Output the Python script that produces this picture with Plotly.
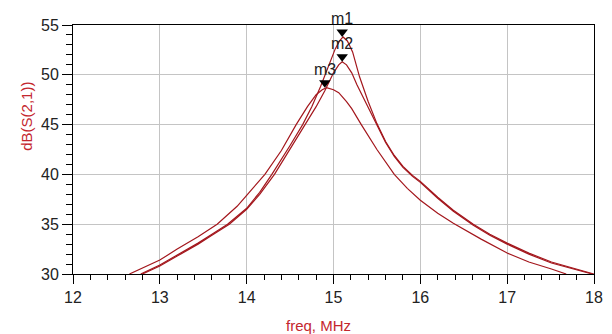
import plotly.graph_objects as go

# Curve m1 (highest peak)
freq_a = [12.78, 13.0, 13.2, 13.44, 13.6, 13.78, 14.0, 14.15, 14.29, 14.4, 14.5, 14.645,
          14.75, 14.85, 14.95, 15.02, 15.07, 15.11, 15.16, 15.22, 15.3, 15.4, 15.5, 15.6,
          15.7, 15.8, 15.91, 16.0, 16.2, 16.38, 16.61, 16.8, 17.0, 17.25, 17.51, 17.75, 18.0]
db_a = [30.0, 30.9, 31.9, 33.1, 34.0, 35.0, 36.6, 38.2, 40.0, 41.5, 42.9, 45.0,
        46.8, 48.8, 51.0, 52.6, 53.4, 53.8, 53.4, 52.3, 49.8, 47.3, 45.1, 43.3,
        41.9, 40.8, 39.9, 39.3, 37.7, 36.4, 35.0, 34.0, 33.1, 32.1, 31.2, 30.6, 30.0]

# Curve m2
freq_b = [12.80, 13.0, 13.2, 13.44, 13.6, 13.80, 14.0, 14.15, 14.32, 14.5, 14.675, 14.8,
          14.9, 15.0, 15.06, 15.10, 15.15, 15.21, 15.27, 15.35, 15.42, 15.5, 15.6, 15.7,
          15.8, 15.91, 16.0, 16.2, 16.38, 16.61, 16.8, 17.0, 17.25, 17.51, 17.75, 17.98]
db_b = [30.0, 30.8, 31.8, 33.0, 33.9, 35.0, 36.5, 38.0, 40.0, 42.6, 45.0, 46.8,
        48.4, 50.2, 51.0, 51.3, 51.0, 50.2, 49.0, 47.6, 46.3, 44.9, 43.2, 41.8,
        40.7, 39.8, 39.2, 37.6, 36.3, 34.9, 33.9, 33.0, 32.0, 31.1, 30.5, 30.0]

# Curve m3 (shifted, lower peak)
freq_c = [12.65, 12.8, 13.0, 13.2, 13.44, 13.66, 13.89, 14.0, 14.21, 14.4, 14.57, 14.7,
          14.8, 14.87, 14.92, 15.0, 15.06, 15.15, 15.21, 15.32, 15.5, 15.7, 15.85, 16.0,
          16.2, 16.38, 16.7, 17.0, 17.25, 17.51, 17.68]
db_c = [30.0, 30.6, 31.4, 32.5, 33.75, 35.0, 36.8, 37.9, 40.0, 42.4, 45.0, 46.8,
        48.0, 48.5, 48.7, 48.5, 48.2, 47.3, 46.6, 45.0, 42.5, 40.0, 38.6, 37.4,
        36.1, 35.1, 33.5, 32.1, 31.2, 30.5, 30.0]

# Markers
marker_names = ["m1", "m2", "m3"]
marker_freq = [15.10, 15.10, 14.90]
marker_db = [53.8, 51.3, 48.7]

x_range = [12, 18]
y_range = [30, 55]

line_color = "#a3161c"
title_color = "#c4262e"
tick_color = "#222222"
font_family = "Liberation Sans, Arial, sans-serif"

fig = go.Figure()
for fx, fy in [(freq_a, db_a), (freq_b, db_b), (freq_c, db_c)]:
    fig.add_trace(go.Scatter(x=fx, y=fy, mode="lines",
                             line=dict(color=line_color, width=1.2),
                             hoverinfo="skip"))

# triangle tip at the data point: shift centre up by half-size in data units
plot_h = 334 - 25 - 60
tri_size = 10
offset = (tri_size / 2) / (plot_h / (y_range[1] - y_range[0]))
fig.add_trace(go.Scatter(x=marker_freq, y=[v + offset for v in marker_db], mode="markers",
                         marker=dict(symbol="triangle-down", size=tri_size, color="black",
                                     line=dict(width=0)),
                         hoverinfo="skip"))

for name, fx, fy in zip(marker_names, marker_freq, marker_db):
    fig.add_annotation(x=fx, y=fy, xref="x", yref="y", text=name, showarrow=False,
                       yanchor="bottom", xanchor="center", yshift=8,
                       font=dict(family=font_family, size=16, color="#222222"))

fig.add_annotation(x=-0.0906, y=0.6345, xref="paper", yref="paper", text="dB(S(2,1))",
                   textangle=-90, showarrow=False, xanchor="center", yanchor="middle",
                   font=dict(family=font_family, size=15, color=title_color))
fig.add_annotation(x=0.4717, y=-0.2088, xref="paper", yref="paper", text="freq, MHz",
                   showarrow=False, xanchor="center", yanchor="middle",
                   font=dict(family=font_family, size=15, color=title_color))

axis_common = dict(showline=True, linecolor="black", linewidth=1, mirror=True,
                   ticks="outside", tickcolor="black", tickwidth=1,
                   showgrid=True, gridcolor="#c4c4c4", gridwidth=1, zeroline=False,
                   tickfont=dict(family=font_family, size=16, color=tick_color))

fig.update_xaxes(range=x_range, tick0=12, dtick=1, ticklen=9,
                 minor=dict(dtick=0.2, ticks="outside", ticklen=5, tickcolor="black",
                            showgrid=False),
                 **axis_common)
fig.update_yaxes(range=y_range, tick0=30, dtick=5, ticklen=10,
                 minor=dict(dtick=1, ticks="outside", ticklen=6, tickcolor="black",
                            showgrid=False),
                 **axis_common)

fig.update_layout(width=612, height=334, margin=dict(l=73, r=9, t=25, b=60),
                  plot_bgcolor="white", paper_bgcolor="white", showlegend=False)

fig.write_html("out.html")
